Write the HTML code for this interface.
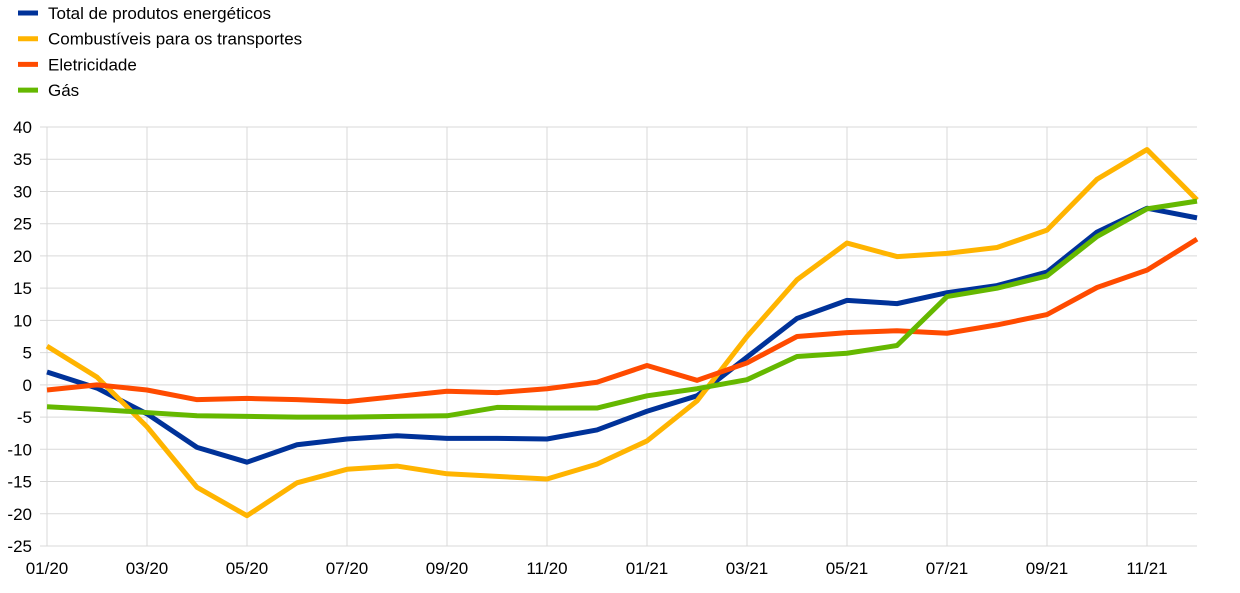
<!DOCTYPE html>
<html><head><meta charset="utf-8"><style>
body{margin:0;background:#fff;width:1240px;height:588px;overflow:hidden;font-family:"Liberation Sans",sans-serif}
svg text{font-family:"Liberation Sans",sans-serif;font-size:17px;fill:#000}
</style></head><body>
<svg id="chart" width="1240" height="588"></svg>
<script>
const months = ["01/20","02/20","03/20","04/20","05/20","06/20","07/20","08/20","09/20","10/20","11/20","12/20","01/21","02/21","03/21","04/21","05/21","06/21","07/21","08/21","09/21","10/21","11/21","12/21"];
const yTicks = [40,35,30,25,20,15,10,5,0,-5,-10,-15,-20,-25];
const seriesNames = ["Total de produtos energéticos","Combustíveis para os transportes","Eletricidade","Gás"];
const seriesColors = ["#003299","#ffb400","#ff4b00","#65b800"];
const totalVals = [2,-0.5,-4.5,-9.7,-12,-9.3,-8.4,-7.9,-8.3,-8.3,-8.4,-7,-4.1,-1.7,4.3,10.3,13.1,12.6,14.3,15.4,17.5,23.7,27.4,25.9];
const fuelVals = [6,1.2,-6.5,-15.9,-20.3,-15.2,-13.1,-12.6,-13.8,-14.2,-14.6,-12.3,-8.7,-2.5,7.5,16.3,22,19.9,20.4,21.3,24,31.9,36.5,28.7];
const elecVals = [-0.8,0,-0.8,-2.3,-2.1,-2.3,-2.6,-1.8,-1,-1.2,-0.6,0.4,3,0.7,3.4,7.5,8.1,8.4,8,9.3,10.9,15.1,17.8,22.6];
const gasVals = [-3.4,-3.8,-4.3,-4.8,-4.9,-5,-5,-4.9,-4.8,-3.5,-3.6,-3.6,-1.7,-0.6,0.8,4.4,4.9,6.1,13.7,15,16.9,23,27.3,28.5];
const allSeries = [totalVals,fuelVals,elecVals,gasVals];

const NS="http://www.w3.org/2000/svg";
const svg=document.getElementById('chart');
const x0=47, dx=50, yTop=127, yBot=546, vMax=40, vMin=-25;
const xScale=i=>x0+i*dx;
const yScale=v=>yTop+(vMax-v)*(yBot-yTop)/(vMax-vMin);
function mk(t,a){const e=document.createElementNS(NS,t);for(const k in a)e.setAttribute(k,a[k]);svg.appendChild(e);return e;}

yTicks.forEach(v=>{
  const l=mk('line',{x1:40,x2:1197,y1:yScale(v),y2:yScale(v),stroke:'#d9d9d9','stroke-width':1});
  
  
  const t=mk('text',{x:32,y:yScale(v)+6,'text-anchor':'end'});
  t.textContent=v;
  
  
});
months.forEach((m,i)=>{
  if(i%2) return;
  const l=mk('line',{x1:xScale(i),x2:xScale(i),y1:yTop,y2:yBot,stroke:'#d9d9d9','stroke-width':1});
  
  
  const t=mk('text',{x:xScale(i),y:574,'text-anchor':'middle'});
  t.textContent=m;
  
  
});
allSeries.forEach((vals,s)=>{
  const p=mk('polyline',{points:vals.map((v,i)=>xScale(i)+','+yScale(v)).join(' '),fill:'none',stroke:seriesColors[s],'stroke-width':5,'stroke-linejoin':'round'});
  
  
});
seriesNames.forEach((n,s)=>{
  const y=13+s*25.7;
  const l=mk('line',{x1:18,x2:38,y1:y,y2:y,stroke:seriesColors[s],'stroke-width':5});
  
  
  const t=mk('text',{x:48,y:y+6});
  t.textContent=n;
  
  
});
</script>
</body></html>
